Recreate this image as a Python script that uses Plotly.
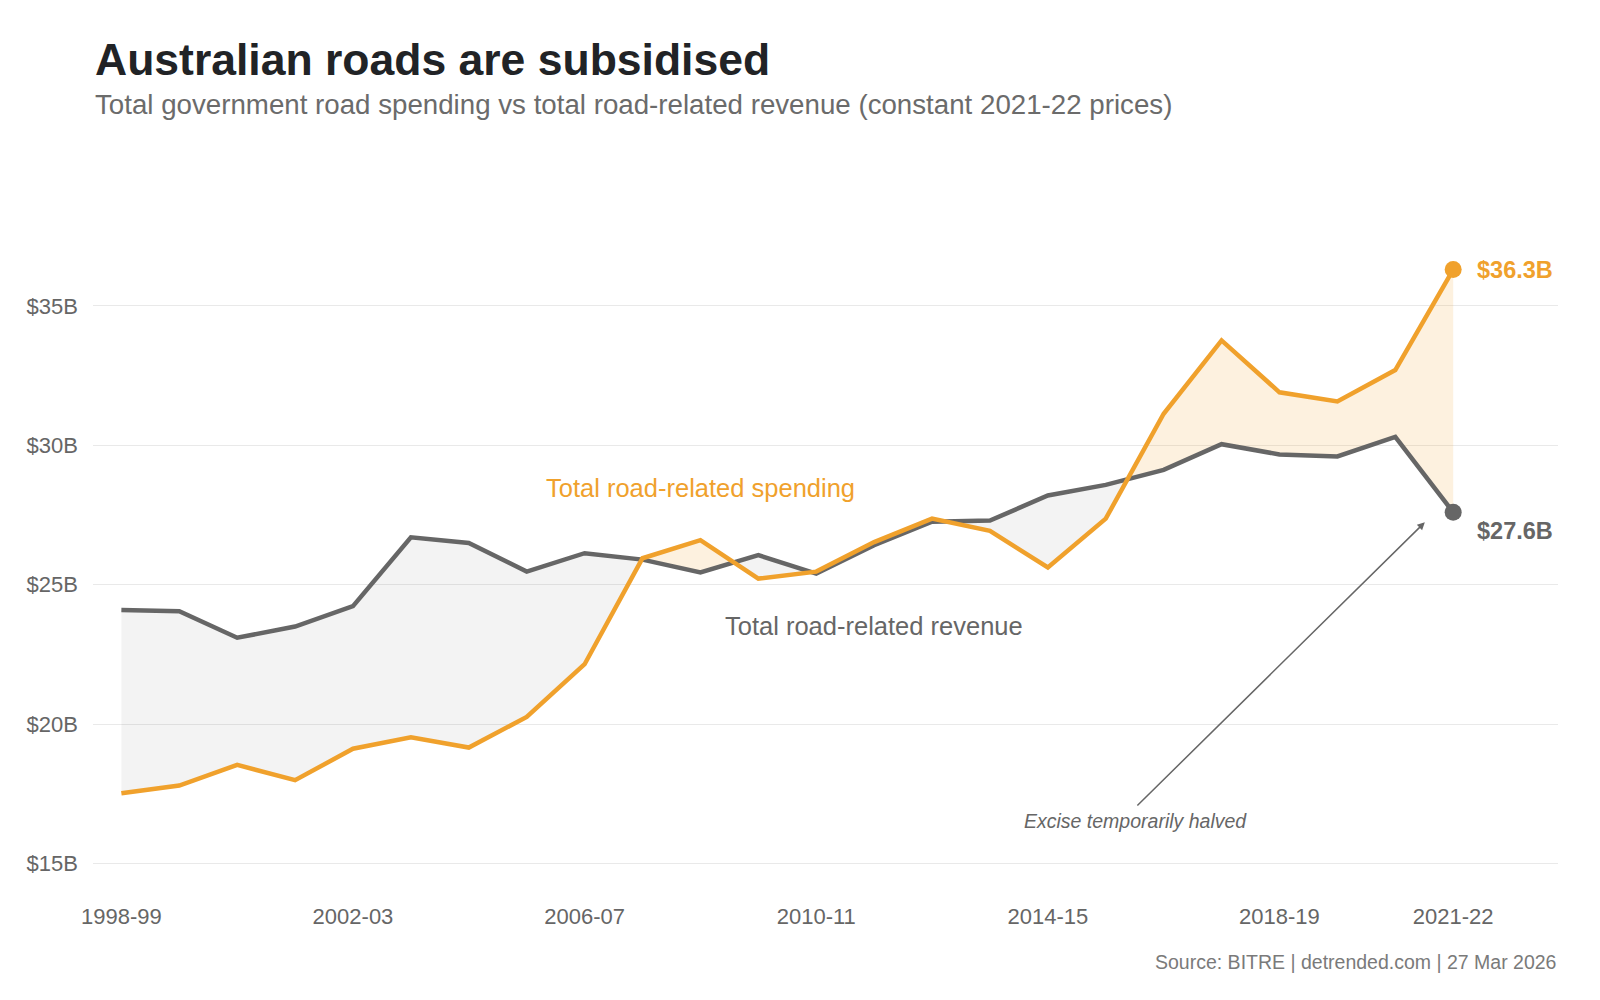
import numpy as np
import plotly.graph_objects as go

years = [
    "1998-99", "1999-00", "2000-01", "2001-02", "2002-03", "2003-04",
    "2004-05", "2005-06", "2006-07", "2007-08", "2008-09", "2009-10",
    "2010-11", "2011-12", "2012-13", "2013-14", "2014-15", "2015-16",
    "2016-17", "2017-18", "2018-19", "2019-20", "2020-21", "2021-22",
]
revenue = [
    24.09, 24.05, 23.10, 23.50, 24.23, 26.70, 26.50, 25.47, 26.13, 25.90,
    25.44, 26.06, 25.40, 26.42, 27.26, 27.30, 28.20, 28.58, 29.12, 30.04,
    29.67, 29.60, 30.30, 27.60,
]
spending = [
    17.52, 17.80, 18.54, 17.99, 19.12, 19.53, 19.16, 20.26, 22.15, 25.95,
    26.60, 25.22, 25.47, 26.53, 27.37, 26.93, 25.62, 27.37, 31.13, 33.76,
    31.90, 31.57, 32.70, 36.30,
]
tick_years = ["1998-99", "2002-03", "2006-07", "2010-11", "2014-15", "2018-19", "2021-22"]
y_ticks = [15, 20, 25, 30, 35]
y_ticktext = ["$15B", "$20B", "$25B", "$30B", "$35B"]

ORANGE = "#f0a12c"
GREY = "#666666"
FONT = "Liberation Sans, Arial, sans-serif"

x = np.arange(len(years), dtype=float)
rev = np.array(revenue)
spd = np.array(spending)

# insert the crossing points so the two shaded areas meet cleanly
xs, rs, ss = [x[0]], [rev[0]], [spd[0]]
for i in range(len(x) - 1):
    d0, d1 = spd[i] - rev[i], spd[i + 1] - rev[i + 1]
    if d0 * d1 < 0:
        t = d0 / (d0 - d1)
        yc = rev[i] + t * (rev[i + 1] - rev[i])
        xs.append(x[i] + t)
        rs.append(yc)
        ss.append(yc)
    xs.append(x[i + 1])
    rs.append(rev[i + 1])
    ss.append(spd[i + 1])
xs, rs, ss = np.array(xs), np.array(rs), np.array(ss)

fig = go.Figure()
invisible = dict(width=0, color="rgba(0,0,0,0)")

fig.add_trace(go.Scatter(x=xs, y=rs, mode="lines", line=invisible, hoverinfo="skip"))
fig.add_trace(go.Scatter(x=xs, y=np.maximum(ss, rs), mode="lines", line=invisible,
                         fill="tonexty", fillcolor="rgba(240,160,40,0.15)", hoverinfo="skip"))
fig.add_trace(go.Scatter(x=xs, y=ss, mode="lines", line=invisible, hoverinfo="skip"))
fig.add_trace(go.Scatter(x=xs, y=np.maximum(ss, rs), mode="lines", line=invisible,
                         fill="tonexty", fillcolor="rgba(102,102,102,0.08)", hoverinfo="skip"))

fig.add_trace(go.Scatter(x=x, y=rev, mode="lines", line=dict(color=GREY, width=4.5),
                         name="Total road-related revenue"))
fig.add_trace(go.Scatter(x=x, y=spd, mode="lines", line=dict(color=ORANGE, width=4.5),
                         name="Total road-related spending"))
fig.add_trace(go.Scatter(x=[x[-1]], y=[rev[-1]], mode="markers",
                         marker=dict(color=GREY, size=17), hoverinfo="skip"))
fig.add_trace(go.Scatter(x=[x[-1]], y=[spd[-1]], mode="markers",
                         marker=dict(color=ORANGE, size=17), hoverinfo="skip"))

annotations = [
    dict(text="<b>Australian roads are subsidised</b>", xref="paper", yref="paper",
         x=0, y=1.268, xanchor="left", yanchor="middle", showarrow=False,
         font=dict(size=44.5, color="#212326")),
    dict(text="Total government road spending vs total road-related revenue (constant 2021-22 prices)",
         xref="paper", yref="paper", x=0, y=1.197, xanchor="left", yanchor="middle",
         showarrow=False, font=dict(size=27.7, color="#6b6b6b")),
    dict(text="Source: BITRE | detrended.com | 27 Mar 2026", xref="paper", yref="paper",
         x=1, y=-0.153, xanchor="right", yanchor="middle", showarrow=False,
         font=dict(size=19.5, color="#7a7a7a")),
    dict(text="Total road-related spending", x=10, y=28.46, showarrow=False,
         font=dict(size=25.5, color=ORANGE)),
    dict(text="Total road-related revenue", x=13, y=23.52, showarrow=False,
         font=dict(size=25.5, color=GREY)),
    dict(text=f"<b>${spd[-1]:.1f}B</b>", x=x[-1], y=spd[-1], xanchor="left", xshift=22,
         showarrow=False, font=dict(size=23.5, color=ORANGE)),
    dict(text=f"<b>${rev[-1]:.1f}B</b>", x=x[-1], y=rev[-1], xanchor="left", xshift=22,
         yshift=-19, showarrow=False, font=dict(size=23.5, color=GREY)),
    dict(text="<i>Excise temporarily halved</i>", x=17.52, y=16.53, showarrow=False,
         font=dict(size=19.5, color=GREY)),
    dict(text="", x=22.51, y=27.24, ax=17.52, ay=17.03, axref="x", ayref="y",
         showarrow=True, arrowhead=2, arrowsize=1, arrowwidth=1.5, arrowcolor=GREY),
]

# the page body has an 8px margin, so the figure is a bit smaller than the window
fig.update_layout(
    width=1584,
    height=984,
    paper_bgcolor="white",
    plot_bgcolor="white",
    showlegend=False,
    font=dict(family=FONT, color=GREY),
    margin=dict(l=85, r=34, t=222, b=127),
    annotations=annotations,
    xaxis=dict(
        range=[-0.49, 24.81],
        tickvals=[years.index(t) for t in tick_years],
        ticktext=tick_years,
        showgrid=False,
        zeroline=False,
        showline=False,
        ticklabelstandoff=36,
        tickfont=dict(size=22, color=GREY),
    ),
    yaxis=dict(
        range=[14.95, 37.72],
        tickvals=y_ticks,
        ticktext=y_ticktext,
        gridcolor="#e9e9e9",
        gridwidth=1,
        zeroline=False,
        showline=False,
        ticklabelstandoff=14,
        tickfont=dict(size=22, color=GREY),
    ),
)

fig.write_html("out.html")
